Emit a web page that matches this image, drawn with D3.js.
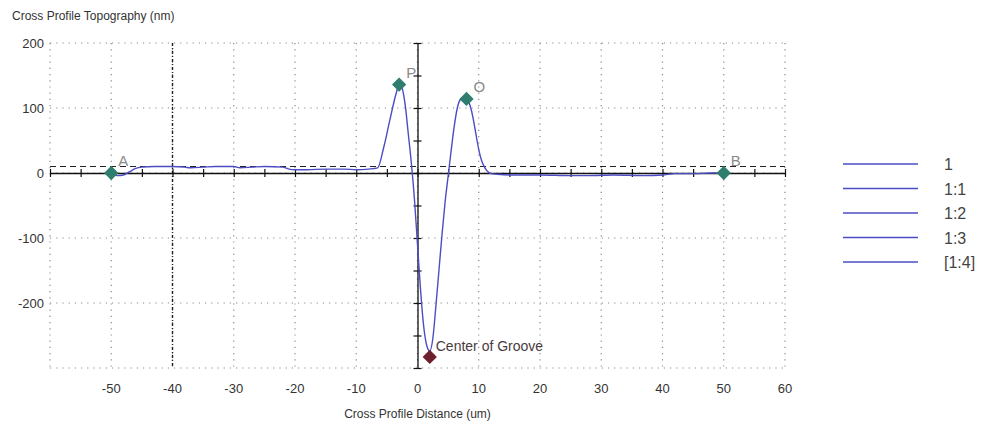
<!DOCTYPE html>
<html>
<head>
<meta charset="utf-8">
<script src="https://cdn.jsdelivr.net/npm/d3@7"></script>
<style>
  body { margin: 0; background: #fff; }
  svg { display: block; font-family: "Liberation Sans", Arial, sans-serif; }
</style>
</head>
<body>
<div id="chart"></div>
<script>
// Cross profile topography: one blue profile with cursor markers A/B/P/O and groove centre.

const profileX = [-50, -49, -48, -47, -46, -45, -43, -40, -38, -37, -35, -33, -30, -29, -27, -25, -22, -21, -20, -18,
  -15, -12, -10, -8, -6.5, -5.5, -4.5, -3.5, -3, -2.5, -2, -1.5, -1, -0.5, 0, 0.5, 1, 1.5, 2, 2.5, 3, 3.5, 4, 4.5,
  5, 5.5, 6, 6.5, 7, 7.5, 8, 8.5, 9, 9.5, 10, 10.5, 11, 11.5, 12, 13, 15, 20, 25, 28, 32, 37, 40, 42, 45, 48, 50];
const profileY = [0, -4, -3, 2, 7, 9, 10, 10, 9, 8, 9, 10, 10, 8, 9, 10, 9, 6, 5, 5,
  6, 6, 5, 6, 8, 40, 82, 122, 136, 130, 104, 60, 15, -40, -110, -180, -235, -265, -274, -255, -205, -150, -95, -45,
  -5, 35, 72, 100, 113, 116, 114, 106, 88, 62, 36, 18, 8, 2, -1, -2, -3, -3, -4, -4, -3, -4, -3, -1, -1, 0, 0];

const markers = [
  { name: "A", x: -50, y: 0, color: "#2f7d6c" },
  { name: "P", x: -3, y: 136, color: "#2f7d6c" },
  { name: "O", x: 8, y: 114, color: "#2f7d6c" },
  { name: "B", x: 50, y: 0, color: "#2f7d6c" },
  { name: "Center of Groove", x: 2, y: -283, color: "#6e1f2c" }
];

const xTicks = [-50, -40, -30, -20, -10, 0, 10, 20, 30, 40, 50, 60];
const yTicks = [200, 100, 0, -100, -200];
const legendLabels = ["1", "1:1", "1:2", "1:3", "[1:4]"];
const cursorX = -40;   // vertical dash-dot cursor
const refLevel = 10;   // horizontal dashed reference

const W = 987, H = 428;
const margin = { top: 43, right: 202, bottom: 60, left: 50 };

const svg = d3.select("#chart").append("svg").attr("width", W).attr("height", H);

const x = d3.scaleLinear().domain([-60, 60]).range([margin.left, W - margin.right]);
const y = d3.scaleLinear().domain([-300, 200]).range([H - margin.bottom, margin.top]);

// dotted grid
const grid = svg.append("g").attr("stroke", "#8a8a8a").attr("stroke-width", 1.2)
  .attr("stroke-dasharray", "1.2,5");
grid.selectAll("line.gx").data(d3.range(-60, 61, 10)).join("line")
  .attr("x1", d => x(d)).attr("x2", d => x(d))
  .attr("y1", y(200)).attr("y2", y(-300));
grid.selectAll("line.gy").data(d3.range(-300, 201, 100)).join("line")
  .attr("class", "gy")
  .attr("x1", x(-60)).attr("x2", x(60))
  .attr("y1", d => y(d)).attr("y2", d => y(d));

// cursor line and reference level
svg.append("line")
  .attr("x1", x(cursorX)).attr("x2", x(cursorX)).attr("y1", y(200)).attr("y2", y(-300))
  .attr("stroke", "#222").attr("stroke-width", 1.4).attr("stroke-dasharray", "3,2,1,2");
svg.append("line")
  .attr("x1", x(-60)).attr("x2", x(60)).attr("y1", y(refLevel)).attr("y2", y(refLevel))
  .attr("stroke", "#222").attr("stroke-width", 1.2).attr("stroke-dasharray", "6,4");

// axes through origin
const gX = svg.append("g").attr("transform", `translate(0,${y(0)})`)
  .call(d3.axisBottom(x).tickValues(d3.range(-60, 61, 5)).tickSize(0).tickFormat(""));
gX.select(".domain").attr("stroke", "#111").attr("stroke-width", 1.3);
gX.selectAll(".tick").append("line").attr("y1", -4).attr("y2", 4).attr("stroke", "#111").attr("stroke-width", 1.2);

const gY = svg.append("g").attr("transform", `translate(${x(0)},0)`)
  .call(d3.axisLeft(y).tickValues(d3.range(-300, 201, 50)).tickSize(0).tickFormat(""));
gY.select(".domain").attr("stroke", "#111").attr("stroke-width", 1.3);
gY.selectAll(".tick").append("line").attr("x1", -4).attr("x2", 4).attr("stroke", "#111").attr("stroke-width", 1.2);

// tick labels on the frame
svg.append("g").selectAll("text").data(yTicks).join("text")
  .attr("x", margin.left - 6).attr("y", d => y(d) + 5)
  .attr("text-anchor", "end").attr("font-size", 13).attr("fill", "#333").text(d => d);
svg.append("g").selectAll("text").data(xTicks).join("text")
  .attr("x", d => x(d)).attr("y", 393)
  .attr("text-anchor", "middle").attr("font-size", 13).attr("fill", "#333").text(d => d);

svg.append("text").attr("x", 12).attr("y", 20).attr("font-size", 12).attr("fill", "#333")
  .text("Cross Profile Topography (nm)");
svg.append("text").attr("x", x(0)).attr("y", 418).attr("text-anchor", "middle")
  .attr("font-size", 12).attr("fill", "#333").text("Cross Profile Distance (um)");

// profile line
const pts = profileX.map((v, i) => [v, profileY[i]]);
svg.append("path").datum(pts)
  .attr("fill", "none").attr("stroke", "#4c4cc4").attr("stroke-width", 1.4)
  .attr("d", d3.line().x(d => x(d[0])).y(d => y(d[1])).curve(d3.curveMonotoneX));

// markers
const diamond = d3.symbol().type(d3.symbolDiamond2).size(130);
const gm = svg.append("g");
gm.selectAll("path").data(markers).join("path")
  .attr("transform", d => `translate(${x(d.x)},${y(d.y)})`)
  .attr("d", diamond).attr("fill", d => d.color);
gm.selectAll("text").data(markers).join("text")
  .attr("x", d => x(d.x) + (d.name.length > 1 ? 6 : 7))
  .attr("y", d => y(d.y) - (d.name.length > 1 ? 6 : 7))
  .attr("font-size", d => d.name.length > 1 ? 14 : 15)
  .attr("fill", d => d.name.length > 1 ? "#4a3b3e" : "#8a8a8a")
  .text(d => d.name);

// legend
const lg = svg.append("g");
lg.selectAll("line").data(legendLabels).join("line")
  .attr("x1", 843).attr("x2", 918)
  .attr("y1", (d, i) => 164 + i * 24.5).attr("y2", (d, i) => 164 + i * 24.5)
  .attr("stroke", "#4c4cc4").attr("stroke-width", 1.6);
lg.selectAll("text").data(legendLabels).join("text")
  .attr("x", 944).attr("y", (d, i) => 170 + i * 24.5)
  .attr("font-size", 16).attr("fill", "#444").text(d => d);
</script>
</body>
</html>
